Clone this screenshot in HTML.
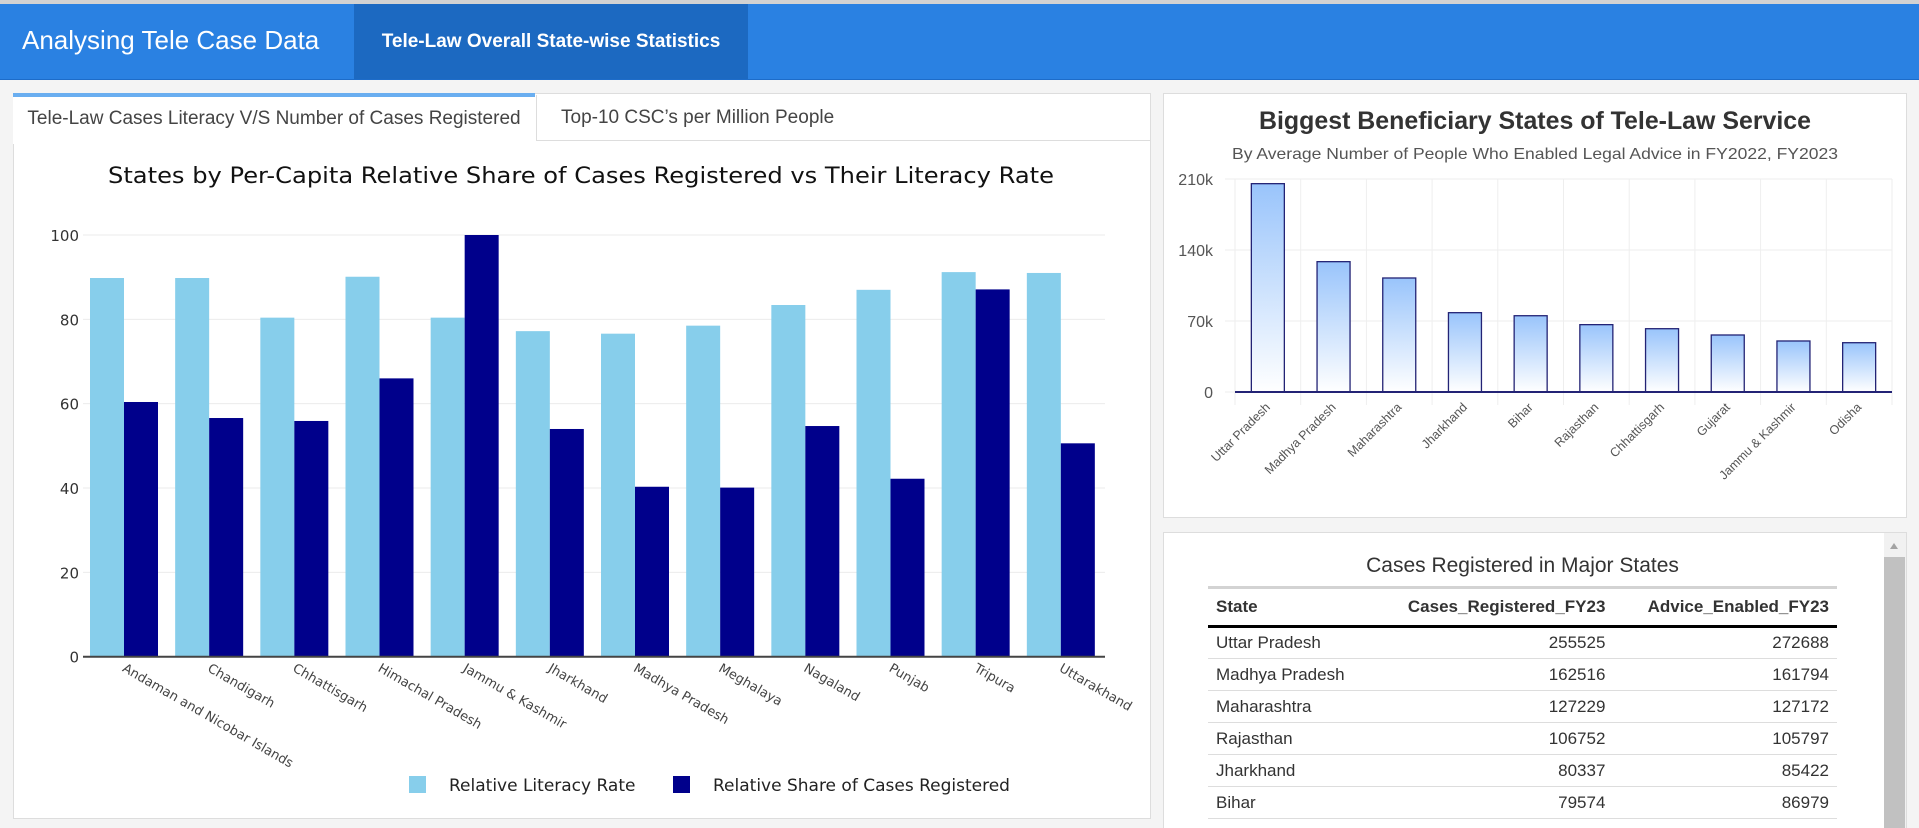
<!DOCTYPE html>
<html><head><meta charset="utf-8">
<style>
html,body{margin:0;padding:0;width:1919px;height:828px;overflow:hidden;background:#f4f4f4;font-family:"Liberation Sans",sans-serif;}
.abs{position:absolute;}
</style></head>
<body>
<div class="abs" style="left:0;top:0;width:1919px;height:4px;background:#d2d2d2"></div>
<div class="abs" style="left:0;top:4px;width:1919px;height:75px;background:#2a81e2;border-bottom:1px solid #1d6cc9"></div>
<div class="abs" style="left:22px;top:25px;color:#fff;font-size:26px;">Analysing Tele Case Data</div>
<div class="abs" style="left:354px;top:4px;width:394px;height:75px;background:#1c69c1;color:#fff;font-size:19px;font-weight:bold;line-height:75px;text-align:center;">Tele-Law Overall State-wise Statistics</div>

<div class="abs" style="left:13px;top:93px;width:1136px;height:724px;background:#fff;border:1px solid #ddd;"></div>
<div class="abs" style="left:13px;top:93px;width:522px;height:47px;background:#fff;border-top:4px solid #6aaef0;color:#444;font-size:19px;line-height:44px;text-align:center;">Tele-Law Cases Literacy V/S Number of Cases Registered</div>
<div class="abs" style="left:536px;top:95px;width:613px;height:45px;background:#fff;border-bottom:1px solid #ddd;border-left:1px solid #ddd;color:#444;font-size:19px;line-height:45px;"><span style="margin-left:24px">Top-10 CSC’s per Million People</span></div>

<svg class="abs" style="left:0;top:0" width="1919" height="828" id="svgroot">
<text x="581" y="183" text-anchor="middle" font-family="DejaVu Sans,sans-serif" font-size="22" fill="#111" textLength="946" lengthAdjust="spacingAndGlyphs">States by Per-Capita Relative Share of Cases Registered vs Their Literacy Rate</text>
<g id="leftChart"></g>
<rect x="409" y="776" width="17" height="17" fill="#87ceeb"/>
<text x="449" y="791" font-family="DejaVu Sans,sans-serif" font-size="17" fill="#222">Relative Literacy Rate</text>
<rect x="673" y="776" width="17" height="17" fill="#00008b"/>
<text x="713" y="791" font-family="DejaVu Sans,sans-serif" font-size="17" fill="#222">Relative Share of Cases Registered</text>

<rect x="1163.5" y="93.5" width="743" height="424" fill="#fff" stroke="#ddd"/>
<text x="1535" y="129" text-anchor="middle" font-family="Liberation Sans,sans-serif" font-weight="bold" font-size="25" fill="#333" textLength="552" lengthAdjust="spacingAndGlyphs">Biggest Beneficiary States of Tele-Law Service</text>
<text x="1535" y="159" text-anchor="middle" font-family="Liberation Sans,sans-serif" font-size="16" fill="#555" textLength="606" lengthAdjust="spacingAndGlyphs">By Average Number of People Who Enabled Legal Advice in FY2022, FY2023</text>
<defs><linearGradient id="bg" x1="0" y1="0" x2="0" y2="1"><stop offset="0" stop-color="#99c4fb"/><stop offset="1" stop-color="#ffffff"/></linearGradient></defs>
<g id="rightChart"></g>

<rect x="1163.5" y="532.5" width="743" height="300" fill="#fff" stroke="#ddd"/>
<rect x="1884" y="533" width="22" height="295" fill="#f1f1f1"/>
<rect x="1884" y="557" width="21" height="271" fill="#c1c1c1"/>
<path d="M1890 549 L1898 549 L1894 543 Z" fill="#a3a3a3"/>
</svg>

<div class="abs" style="left:1208px;top:554px;width:629px;text-align:center;font-size:21px;color:#333;">Cases Registered in Major States</div>
<table class="abs" style="left:1208px;top:586px;width:629px;border-collapse:collapse;font-size:17px;color:#333;">
<thead><tr style="border-top:3px solid #d3d3d3;border-bottom:3px solid #000;height:39px;font-weight:bold;">
<th style="text-align:left;padding:0 8px;">State</th>
<th style="text-align:right;padding:0 8px;">Cases_Registered_FY23</th>
<th style="text-align:right;padding:0 8px;">Advice_Enabled_FY23</th></tr></thead>
<tbody id="tb"></tbody></table>

<script>
const NS="http://www.w3.org/2000/svg";
function mk(p,t,a){const e=document.createElementNS(NS,t);for(const k in a)e.setAttribute(k,a[k]);p.appendChild(e);return e;}

// Left chart data
const leftCategories=["Andaman and Nicobar Islands","Chandigarh","Chhattisgarh","Himachal Pradesh","Jammu & Kashmir","Jharkhand","Madhya Pradesh","Meghalaya","Nagaland","Punjab","Tripura","Uttarakhand"];
const literacyRate=[89.8,89.8,80.4,90.1,80.4,77.2,76.6,78.5,83.4,87.0,91.2,91.0];
const casesShare=[60.4,56.6,55.9,66.0,100,54.0,40.3,40.1,54.7,42.2,87.1,50.6];
const leftTicks=[0,20,40,60,80,100];

// Right chart data
const rightCategories=["Uttar Pradesh","Madhya Pradesh","Maharashtra","Jharkhand","Bihar","Rajasthan","Chhattisgarh","Gujarat","Jammu & Kashmir","Odisha"];
const adviceAvg=[205400,128500,112400,78200,75200,66400,62400,56200,50300,48600];
const rightTicks=[0,70000,140000,210000];
const rightTickLabels=["0","70k","140k","210k"];

// Table data
const tableStates=["Uttar Pradesh","Madhya Pradesh","Maharashtra","Rajasthan","Jharkhand","Bihar"];
const tableCases=[255525,162516,127229,106752,80337,79574];
const tableAdvice=[272688,161794,127172,105797,85422,86979];

// Left chart
(function(){
const g=document.getElementById('leftChart');
const x0=83,x1=1105,yb=656.7,yt=235;
const y=v=>yb-(v/100)*(yb-yt);
const step=(x1-x0)/leftCategories.length;
leftTicks.forEach(t=>{
 const l=mk(g,'line',{x1:x0,x2:x1,y1:y(t),y2:y(t),stroke:'#ebebeb','stroke-width':1});
 
 
 const tx=mk(g,'text',{x:x0-4,y:y(t)+6,'text-anchor':'end','font-family':'DejaVu Sans,sans-serif','font-size':15,fill:'#333'});
 tx.textContent=t;
 
 
});
leftCategories.forEach((c,i)=>{
 const bx=x0+i*step+7;
 const r1=mk(g,'rect',{x:bx,y:y(literacyRate[i]),width:34,height:yb-y(literacyRate[i]),fill:'#87ceeb'});
 
 
 const r2=mk(g,'rect',{x:bx+34,y:y(casesShare[i]),width:34,height:yb-y(casesShare[i]),fill:'#00008b'});
 
 
 const cx=x0+i*step+step/2;
 const t=mk(g,'text',{x:cx-4,y:yb+14,'font-family':'DejaVu Sans,sans-serif','font-size':13,fill:'#444',transform:`rotate(30 ${cx-4} ${yb+14})`});
 t.textContent=c;
 
 
});
const ax=mk(g,'line',{x1:x0,x2:x1,y1:yb,y2:yb,stroke:'#444','stroke-width':2});


})();

// Right chart
(function(){
const g=document.getElementById('rightChart');
const x0=1235,x1=1892,yb=392,yt=179;
const y=v=>yb-(v/210000)*(yb-yt);
const step=(x1-x0)/rightCategories.length;
rightTicks.forEach((t,i)=>{
 const l=mk(g,'line',{x1:x0-10,x2:x1,y1:y(t),y2:y(t),stroke:'#eee','stroke-width':1});
 
 
 const tx=mk(g,'text',{x:x0-22,y:y(t)+6,'text-anchor':'end','font-family':'Liberation Sans,sans-serif','font-size':16,fill:'#555'});
 tx.textContent=rightTickLabels[i];
 
 
});
for(let i=0;i<=rightCategories.length;i++){
 const l=mk(g,'line',{x1:x0+i*step,x2:x0+i*step,y1:yt,y2:405,stroke:'#eee','stroke-width':1});
 
 
}
rightCategories.forEach((c,i)=>{
 const cx=x0+i*step+step/2;
 const r=mk(g,'rect',{x:cx-16.5,y:y(adviceAvg[i]),width:33,height:yb-y(adviceAvg[i]),fill:'url(#bg)',stroke:'#232375','stroke-width':1.3});
 
 
 const t=mk(g,'text',{x:cx+3,y:408,'text-anchor':'end','font-family':'Liberation Sans,sans-serif','font-size':12.5,fill:'#555',transform:`rotate(-45 ${cx+3} 408)`});
 t.textContent=c;
 
 
});
const ax=mk(g,'line',{x1:x0,x2:x1,y1:yb,y2:yb,stroke:'#232375','stroke-width':2});


})();

// Table
(function(){
const tb=document.getElementById('tb');
tableStates.forEach((s,i)=>{
 const tr=document.createElement('tr');
 
 
 tr.style.height='32px';
 tr.style.borderBottom='1px solid #ddd';
 tr.innerHTML=`<td style="padding:0 8px">${s}</td><td style="text-align:right;padding:0 8px">${tableCases[i]}</td><td style="text-align:right;padding:0 8px">${tableAdvice[i]}</td>`;
 tb.appendChild(tr);
});
})();
</script>
</body></html>
